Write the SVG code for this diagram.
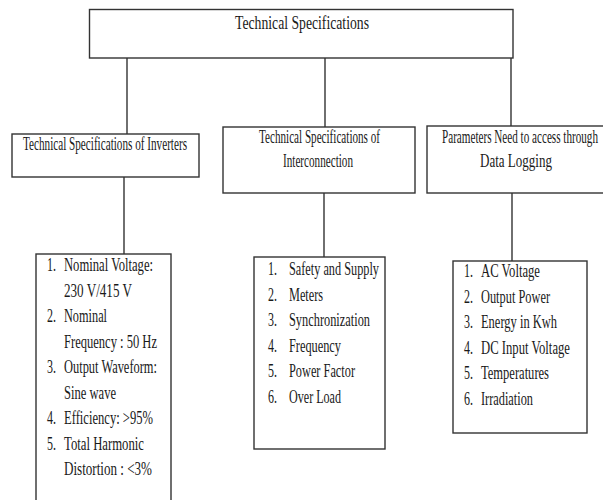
<svg xmlns="http://www.w3.org/2000/svg" width="603" height="500" viewBox="0 0 603 500">
<style>
.box{fill:#fff;stroke:#333;stroke-width:1.4}
.con line{stroke:#333;stroke-width:1.4}
text{font-family:"Liberation Serif","Times New Roman",serif;font-size:18px;fill:#1a1a1a}
.t{font-size:19px}
</style>
<rect x="0" y="0" width="603" height="500" fill="#fff"/>
<g class="con">
<line x1="127" y1="58" x2="127" y2="134"/>
<line x1="325" y1="58" x2="325" y2="127"/>
<line x1="511" y1="58" x2="511" y2="126"/>
<line x1="124" y1="177" x2="124" y2="254"/>
<line x1="324" y1="193" x2="324" y2="257"/>
<line x1="512" y1="193" x2="512" y2="261"/>
</g>
<g id="root">
<rect class="box" x="89.5" y="9.5" width="423.5" height="48.5"/>
<text class="t" x="235" y="29" textLength="134" lengthAdjust="spacingAndGlyphs">Technical Specifications</text>
</g>
<g id="inverters">
<rect class="box" x="12" y="134" width="187" height="43"/>
<text x="23" y="150" textLength="164" lengthAdjust="spacingAndGlyphs">Technical Specifications of Inverters</text>
</g>
<g id="interconnection">
<rect class="box" x="223" y="127" width="192" height="66"/>
<text x="259" y="143" textLength="121" lengthAdjust="spacingAndGlyphs">Technical Specifications of</text>
<text x="283" y="167" textLength="70" lengthAdjust="spacingAndGlyphs">Interconnection</text>
</g>
<g id="datalogging">
<rect class="box" x="427" y="126" width="190" height="67"/>
<text x="442" y="143" textLength="156" lengthAdjust="spacingAndGlyphs">Parameters Need to access through</text>
<text x="480" y="167" textLength="72" lengthAdjust="spacingAndGlyphs">Data Logging</text>
</g>
<g id="inverter-list">
<rect class="box" x="36" y="254" width="135" height="260"/>
<text x="47" y="271" textLength="9" lengthAdjust="spacingAndGlyphs">1.</text>
<text x="64" y="271" textLength="89" lengthAdjust="spacingAndGlyphs">Nominal Voltage:</text>
<text x="64" y="296.5" textLength="68" lengthAdjust="spacingAndGlyphs">230 V/415 V</text>
<text x="47" y="322" textLength="9" lengthAdjust="spacingAndGlyphs">2.</text>
<text x="64" y="322" textLength="43" lengthAdjust="spacingAndGlyphs">Nominal</text>
<text x="64" y="347.5" textLength="93" lengthAdjust="spacingAndGlyphs">Frequency : 50 Hz</text>
<text x="47" y="373" textLength="9" lengthAdjust="spacingAndGlyphs">3.</text>
<text x="64" y="373" textLength="93" lengthAdjust="spacingAndGlyphs">Output Waveform:</text>
<text x="64" y="398.5" textLength="52" lengthAdjust="spacingAndGlyphs">Sine wave</text>
<text x="47" y="424" textLength="9" lengthAdjust="spacingAndGlyphs">4.</text>
<text x="64" y="424" textLength="89" lengthAdjust="spacingAndGlyphs">Efficiency: &gt;95%</text>
<text x="47" y="449.5" textLength="9" lengthAdjust="spacingAndGlyphs">5.</text>
<text x="64" y="449.5" textLength="80" lengthAdjust="spacingAndGlyphs">Total Harmonic</text>
<text x="64" y="475" textLength="88" lengthAdjust="spacingAndGlyphs">Distortion : &lt;3%</text>
</g>
<g id="interconnection-list">
<rect class="box" x="254" y="257" width="131" height="192"/>
<text x="268" y="275" textLength="9" lengthAdjust="spacingAndGlyphs">1.</text>
<text x="289" y="275" textLength="90" lengthAdjust="spacingAndGlyphs">Safety and Supply</text>
<text x="268" y="300.6" textLength="9" lengthAdjust="spacingAndGlyphs">2.</text>
<text x="289" y="300.6" textLength="34" lengthAdjust="spacingAndGlyphs">Meters</text>
<text x="268" y="326.2" textLength="9" lengthAdjust="spacingAndGlyphs">3.</text>
<text x="289" y="326.2" textLength="81" lengthAdjust="spacingAndGlyphs">Synchronization</text>
<text x="268" y="351.8" textLength="9" lengthAdjust="spacingAndGlyphs">4.</text>
<text x="289" y="351.8" textLength="52" lengthAdjust="spacingAndGlyphs">Frequency</text>
<text x="268" y="377.4" textLength="9" lengthAdjust="spacingAndGlyphs">5.</text>
<text x="289" y="377.4" textLength="66" lengthAdjust="spacingAndGlyphs">Power Factor</text>
<text x="268" y="403" textLength="9" lengthAdjust="spacingAndGlyphs">6.</text>
<text x="289" y="403" textLength="52" lengthAdjust="spacingAndGlyphs">Over Load</text>
</g>
<g id="datalogging-list">
<rect class="box" x="453" y="261" width="134" height="172"/>
<text x="464" y="277" textLength="9" lengthAdjust="spacingAndGlyphs">1.</text>
<text x="481" y="277" textLength="59" lengthAdjust="spacingAndGlyphs">AC Voltage</text>
<text x="464" y="302.6" textLength="9" lengthAdjust="spacingAndGlyphs">2.</text>
<text x="481" y="302.6" textLength="69" lengthAdjust="spacingAndGlyphs">Output Power</text>
<text x="464" y="328.2" textLength="9" lengthAdjust="spacingAndGlyphs">3.</text>
<text x="481" y="328.2" textLength="76" lengthAdjust="spacingAndGlyphs">Energy in Kwh</text>
<text x="464" y="353.8" textLength="9" lengthAdjust="spacingAndGlyphs">4.</text>
<text x="481" y="353.8" textLength="89" lengthAdjust="spacingAndGlyphs">DC Input Voltage</text>
<text x="464" y="379.4" textLength="9" lengthAdjust="spacingAndGlyphs">5.</text>
<text x="481" y="379.4" textLength="68" lengthAdjust="spacingAndGlyphs">Temperatures</text>
<text x="464" y="405" textLength="9" lengthAdjust="spacingAndGlyphs">6.</text>
<text x="481" y="405" textLength="52" lengthAdjust="spacingAndGlyphs">Irradiation</text>
</g>
</svg>
